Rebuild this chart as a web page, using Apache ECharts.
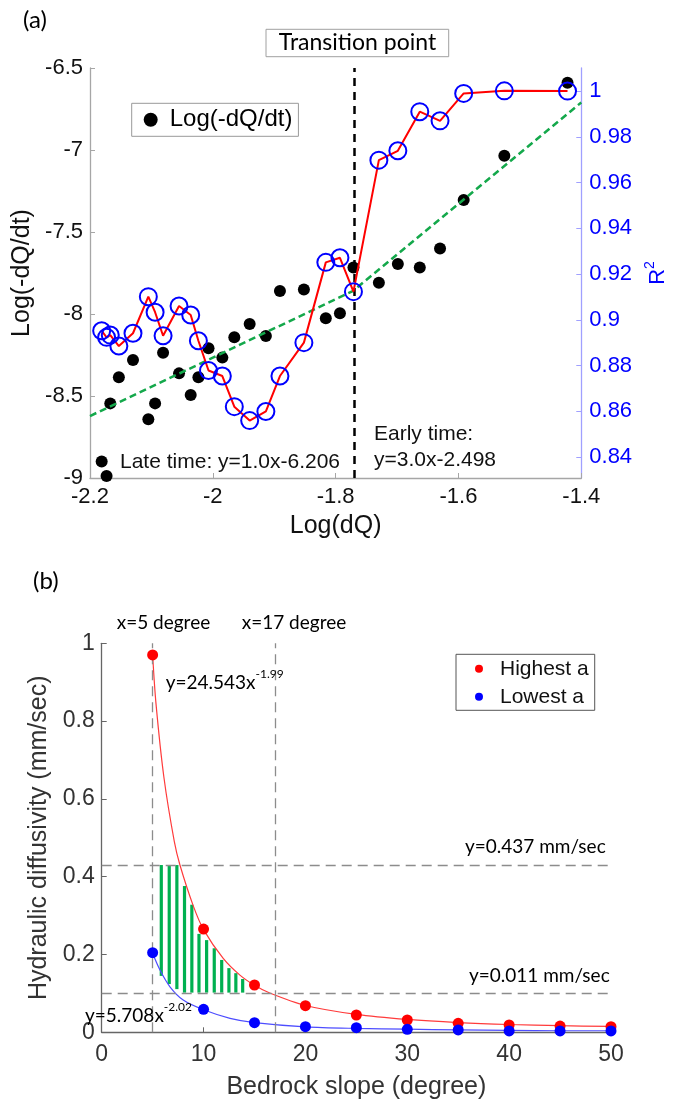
<!DOCTYPE html>
<html><head><meta charset="utf-8">
<script src="https://cdn.jsdelivr.net/npm/echarts@6/dist/echarts.min.js"></script>
<style>html,body{margin:0;padding:0;background:#fff}#c{width:677px;height:1101px}</style>
</head><body><div id="c"></div>
<script>
// ---------- Panel (a) data ----------
const logDQ = [-2.181,-2.173,-2.167,-2.153,-2.130,-2.105,-2.094,-2.081,-2.055,-2.036,-2.0235,-2.007,-1.9845,-1.965,-1.940,-1.9136,-1.8907,-1.8517,-1.816,-1.793,-1.771,-1.7296,-1.6987,-1.663,-1.630,-1.5915,-1.5253,-1.4224];
const logRate = [-8.900,-8.988,-8.545,-8.386,-8.280,-8.642,-8.545,-8.236,-8.362,-8.494,-8.386,-8.209,-8.266,-8.142,-8.061,-8.134,-7.860,-7.850,-8.026,-7.996,-7.716,-7.809,-7.695,-7.716,-7.600,-7.305,-7.035,-6.590];
const r2 = [0.8952,0.8923,0.8933,0.8885,0.8941,0.9101,0.9033,0.8930,0.9060,0.9021,0.8908,0.8778,0.8754,0.8620,0.8559,0.8599,0.8754,0.8900,0.9251,0.9271,0.9123,0.9698,0.9739,0.9910,0.9870,0.9990,1.0001,1.0];
const fitX = [-2.2, -1.772, -1.4];
const fitY = [-8.622, -7.86, -6.71];
const transitionX = -1.772;
const r2Ticks = [0.84,0.86,0.88,0.9,0.92,0.94,0.96,0.98,1.0];

// ---------- Panel (b) data ----------
const slope = [5,10,15,20,25,30,35,40,45,50];
const highA = [0.970,0.2655,0.1216,0.0684,0.0445,0.0316,0.023,0.0188,0.016,0.0145];
const lowA  = [0.2046,0.059,0.0247,0.0144,0.0118,0.0077,0.006,0.0034,0.0034,0.0034];
const highFitX = [5,5.33,6.11,7.13,7.68,8.99,10,11.93,13.57,15,16.5,20,25,30,35,40,45,50];
const highFitY = [0.97,0.845,0.655,0.49,0.43,0.325,0.264,0.19,0.147,0.121,0.101,0.069,0.046,0.033,0.025,0.020,0.017,0.015];
const lowFitX = [5,5.72,6.7,8.0,10,12.6,15,20,25,30,35,40,45,50];
const lowFitY = [0.203,0.160,0.117,0.083,0.058,0.036,0.025,0.014,0.010,0.008,0.006,0.005,0.004,0.004];
const hatchX = [5.85,6.63,7.38,8.13,8.85,9.55,10.30,11.05,11.78,12.49,13.17,13.84];
const hatchTop = [0.430,0.430,0.430,0.376,0.328,0.253,0.237,0.216,0.186,0.165,0.152,0.137];
const hatchBottom = [0.145,0.124,0.111,0.102,0.102,0.102,0.102,0.102,0.102,0.102,0.102,0.102];
const slopeMarks = [5, 17];
const diffMarks = [0.43, 0.102];

const zip = (a, b) => a.map((v, i) => [v, b[i]]);
const SANS = "'Liberation Sans', Arial, sans-serif";
const CAL = "Lato, 'Open Sans', sans-serif";

const chart = echarts.init(document.getElementById('c'), null, {renderer: 'canvas'});

const gray = '#a6a6a6';
const dash = {symbol: 'none', silent: true, label: {show: false}};

const option = {
  animation: false,
  backgroundColor: '#fff',
  grid: [
    {left: 90, top: 68, width: 500, height: 410},
    {left: 101.7, top: 643.3, width: 509.3, height: 389}
  ],
  xAxis: [
    {gridIndex: 0, type: 'value', min: -2.2, max: -1.4, interval: 0.2,
     axisLine: {show: true, onZero: false, lineStyle: {color: gray, width: 1.3}},
     axisTick: {show: true, inside: true, length: 5, lineStyle: {color: gray}},
     axisLabel: {fontSize: 22, color: '#111', margin: 8, fontFamily: SANS, formatter: v => String(+v.toFixed(1))},
     splitLine: {show: false},
     name: 'Log(dQ)', nameLocation: 'middle', nameGap: 36,
     nameTextStyle: {fontSize: 25, color: '#111', fontFamily: SANS}},
    {gridIndex: 1, type: 'value', min: 0, max: 50, interval: 10,
     axisLine: {show: true, onZero: false, lineStyle: {color: '#666', width: 1.3}},
     axisTick: {show: true, inside: true, length: 5, lineStyle: {color: '#666'}},
     axisLabel: {fontSize: 23, color: '#333', margin: 11, fontFamily: SANS},
     splitLine: {show: false},
     name: 'Bedrock slope (degree)', nameLocation: 'middle', nameGap: 42,
     nameTextStyle: {fontSize: 25, color: '#333', fontFamily: SANS}}
  ],
  yAxis: [
    {gridIndex: 0, type: 'value', position: 'left', min: -9, max: -6.5, interval: 0.5,
     axisLine: {show: true, onZero: false, lineStyle: {color: gray, width: 1.3}},
     axisTick: {show: true, inside: true, length: 5, lineStyle: {color: gray}},
     axisLabel: {fontSize: 22, color: '#111', margin: 7, fontFamily: SANS, formatter: v => String(+v.toFixed(1))},
     splitLine: {show: false},
     name: 'Log(-dQ/dt)', nameLocation: 'middle', nameGap: 52,
     nameTextStyle: {fontSize: 25, color: '#111', fontFamily: SANS}},
    {gridIndex: 0, type: 'value', position: 'right', min: 0.8308, max: 1.0101,
     axisLine: {show: true, onZero: false, lineStyle: {color: '#a0a0ff', width: 1.3}},
     axisTick: {show: true, inside: true, length: 5, customValues: r2Ticks, lineStyle: {color: '#a0a0ff'}},
     axisLabel: {fontSize: 22, color: '#0000ff', margin: 8, fontFamily: SANS, customValues: r2Ticks, formatter: v => String(+(+v).toFixed(2))},
     splitLine: {show: false},
     name: '{r|R}{s|2}', nameLocation: 'middle', nameGap: 58,
     nameTextStyle: {color: '#0000ff', fontFamily: SANS,
       rich: {r: {fontSize: 22, color: '#0000ff', lineHeight: 26, verticalAlign: 'bottom'},
              s: {fontSize: 14, color: '#0000ff', lineHeight: 26, verticalAlign: 'top'}}}},
    {gridIndex: 1, type: 'value', min: 0, max: 1, interval: 0.2,
     axisLine: {show: true, onZero: false, lineStyle: {color: '#666', width: 1.3}},
     axisTick: {show: true, inside: true, length: 5, lineStyle: {color: '#666'}},
     axisLabel: {fontSize: 23, color: '#333', margin: 7, fontFamily: SANS, formatter: v => String(+v.toFixed(1))},
     splitLine: {show: false},
     name: 'Hydraulic diffusivity (mm/sec)', nameLocation: 'middle', nameGap: 42,
     nameTextStyle: {fontSize: 25, color: '#333', fontFamily: SANS}}
  ],
  legend: [
    {data: ['Log(-dQ/dt)'], left: 131.7, top: 103.3, orient: 'horizontal',
     padding: [4, 6, 4, 12], itemWidth: 28, itemHeight: 14, icon: 'circle',
     borderColor: '#999', borderWidth: 1, backgroundColor: '#fff',
     textStyle: {fontSize: 24, color: '#000', fontFamily: SANS, lineHeight: 25}},
    {data: ['Highest a', 'Lowest a'], left: 456, top: 654.3, orient: 'vertical',
     padding: [4, 6, 3, 19], itemWidth: 32, itemHeight: 8, itemGap: 7, icon: 'circle',
     borderColor: '#555', borderWidth: 1, backgroundColor: '#fff',
     textStyle: {fontSize: 21, color: '#111', fontFamily: SANS, lineHeight: 21}}
  ],
  series: [
    {name: 'Log(-dQ/dt)', type: 'scatter', xAxisIndex: 0, yAxisIndex: 0,
     data: zip(logDQ, logRate), symbol: 'circle', symbolSize: 12,
     itemStyle: {color: '#000', opacity: 1}, z: 3,
     markLine: Object.assign({}, dash, {
       lineStyle: {color: '#000', width: 2.5, type: [8, 6]},
       data: [{xAxis: transitionX}]})},
    {name: 'fit', type: 'line', xAxisIndex: 0, yAxisIndex: 0,
     data: zip(fitX, fitY), showSymbol: false, symbol: 'none',
     lineStyle: {color: '#14a84b', width: 2.5, type: [7, 4]}, z: 4},
    {name: 'R2line', type: 'line', xAxisIndex: 0, yAxisIndex: 1,
     data: zip(logDQ, r2), symbol: 'none',
     lineStyle: {color: '#ff0000', width: 2}, z: 5},
    {name: 'R2', type: 'scatter', xAxisIndex: 0, yAxisIndex: 1,
     data: zip(logDQ, r2), symbol: 'circle', symbolSize: 17,
     itemStyle: {color: 'rgba(0,0,0,0)', borderColor: '#0000ff', borderWidth: 2, opacity: 1}, z: 6},

    {name: 'hatch', type: 'custom', xAxisIndex: 1, yAxisIndex: 2,
     data: hatchX.map((x, i) => [x, hatchBottom[i], hatchTop[i]]),
     encode: {x: 0, y: [1, 2]},
     renderItem: function (params, api) {
       const x = api.value(0), b = api.value(1), t = api.value(2);
       const p1 = api.coord([x, t]), p2 = api.coord([x, b]);
       const w = 3.2;
       return {type: 'rect', shape: {x: p1[0] - w / 2, y: p1[1], width: w, height: p2[1] - p1[1]},
               style: {fill: '#00b050'}};
     }, z: 2},
    {name: 'highFit', type: 'line', xAxisIndex: 1, yAxisIndex: 2,
     data: zip(highFitX, highFitY), symbol: 'none', smooth: 0.3,
     lineStyle: {color: '#ff3b3b', width: 1.2}, z: 3},
    {name: 'lowFit', type: 'line', xAxisIndex: 1, yAxisIndex: 2,
     data: zip(lowFitX, lowFitY), symbol: 'none', smooth: 0.3,
     lineStyle: {color: '#4d4dff', width: 1.2}, z: 3},
    {name: 'Highest a', type: 'scatter', xAxisIndex: 1, yAxisIndex: 2,
     data: zip(slope, highA), symbol: 'circle', symbolSize: 11,
     itemStyle: {color: '#ff0000', opacity: 1}, z: 5,
     markLine: Object.assign({}, dash, {
       lineStyle: {color: '#8c8c8c', width: 1.3, type: [10, 6]},
       data: slopeMarks.map(v => ({xAxis: v})).concat(diffMarks.map(v => ({yAxis: v})))})},
    {name: 'Lowest a', type: 'scatter', xAxisIndex: 1, yAxisIndex: 2,
     data: zip(slope, lowA), symbol: 'circle', symbolSize: 11,
     itemStyle: {color: '#0000ff', opacity: 1}, z: 5}
  ],
  graphic: [
    {type: 'text', x: 23, y: 20, style: {text: '(a)', font: '24px ' + CAL, fill: '#000', verticalAlign: 'middle'}},
    {type: 'rect', shape: {x: 266, y: 29.3, width: 182.7, height: 27.4},
     style: {fill: '#fff', stroke: '#a0a0a0', lineWidth: 1}, z: 10},
    {type: 'text', x: 357.5, y: 43, z: 11, style: {text: 'Transition point', font: '23px ' + CAL, fill: '#000', align: 'center', verticalAlign: 'middle'}},
    {type: 'text', x: 120, y: 462, z: 11, style: {text: 'Late time: y=1.0x-6.206', font: "21px 'Liberation Sans', Arial", fill: '#111', verticalAlign: 'middle'}},
    {type: 'text', x: 374, y: 434, z: 11, style: {text: 'Early time:', font: "21px 'Liberation Sans', Arial", fill: '#111', verticalAlign: 'middle'}},
    {type: 'text', x: 374, y: 460, z: 11, style: {text: 'y=3.0x-2.498', font: "21px 'Liberation Sans', Arial", fill: '#111', verticalAlign: 'middle'}},

    {type: 'text', x: 33, y: 581, style: {text: '(b)', font: '24px ' + CAL, fill: '#000', verticalAlign: 'middle'}},
    {type: 'text', x: 116.7, y: 623, style: {text: 'x=5 degree', font: '19px ' + CAL, fill: '#000', verticalAlign: 'middle'}},
    {type: 'text', x: 241.7, y: 623, style: {text: 'x=17 degree', font: '19px ' + CAL, fill: '#000', verticalAlign: 'middle'}},
    {type: 'text', x: 165.7, y: 680, z: 11, style: {text: '{b|y=24.543x}{s|-1.99}',
      rich: {b: {fontSize: 19, fontFamily: CAL, fill: '#000', lineHeight: 24, verticalAlign: 'bottom'},
             s: {fontSize: 12, fontFamily: CAL, fill: '#000', lineHeight: 24, verticalAlign: 'top'}},
      verticalAlign: 'middle'}},
    {type: 'text', x: 85, y: 1013, z: 11, style: {text: '{b|y=5.708x}{s|-2.02}',
      rich: {b: {fontSize: 19, fontFamily: CAL, fill: '#000', lineHeight: 24, verticalAlign: 'bottom'},
             s: {fontSize: 12, fontFamily: CAL, fill: '#000', lineHeight: 24, verticalAlign: 'top'}},
      verticalAlign: 'middle'}},
    {type: 'text', x: 465, y: 847, style: {text: 'y=0.437 mm/sec', font: '19px ' + CAL, fill: '#000', verticalAlign: 'middle'}},
    {type: 'text', x: 469, y: 976, style: {text: 'y=0.011 mm/sec', font: '19px ' + CAL, fill: '#000', verticalAlign: 'middle'}}
  ]
};
chart.setOption(option);
</script>
</body></html>
